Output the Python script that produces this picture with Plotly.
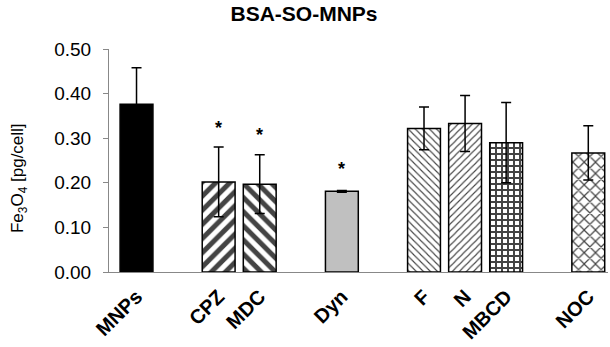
import plotly.graph_objects as go

categories = ["MNPs", "CPZ", "MDC", "Dyn", "F", "N", "MBCD", "NOC"]
slots = [0, 2, 3, 5, 7, 8, 9, 11]
values = [0.376, 0.202, 0.197, 0.181, 0.322, 0.333, 0.290, 0.267]
errors = [0.082, 0.078, 0.066, 0.002, 0.048, 0.063, 0.090, 0.061]
star_cats = ["CPZ", "MDC", "Dyn"]
star_y = [0.322, 0.307, 0.232]
y_ticks = [0.0, 0.1, 0.2, 0.3, 0.4, 0.5]

fills = ["black", "white", "white", "#c0c0c0", "white", "white", "white", "white"]
shapes = ["", "/", "\\", "", "\\", "/", "+", "x"]
psize = [8, 10, 10, 8, 5, 5, 6, 8]
psolid = [0.3, 0.5, 0.5, 0.3, 0.22, 0.22, 0.55, 0.28]

FONT = "Arial, Liberation Sans"

fig = go.Figure()
fig.add_trace(go.Bar(
    x=slots, y=values, width=0.8,
    marker=dict(color=fills, line=dict(color="black", width=1.5),
                pattern=dict(shape=shapes, fgcolor="black", bgcolor="white",
                             fgopacity=1, size=psize, solidity=psolid,
                             fillmode="overlay")),
    error_y=dict(type="data", array=errors, visible=True, color="black",
                 thickness=1.5, width=5),
    showlegend=False,
))

for c, yv in zip(star_cats, star_y):
    fig.add_annotation(x=slots[categories.index(c)], y=yv, text="<b>*</b>",
                       showarrow=False, font=dict(size=18, color="black", family=FONT))

fig.add_annotation(xref="paper", yref="paper", x=-0.205, y=0.42,
                   text="Fe<sub>3</sub>O<sub>4</sub> [pg/cell]", textangle=-90,
                   showarrow=False, font=dict(size=17, color="black", family=FONT))

fig.update_layout(
    width=610, height=347,
    margin=dict(l=109, r=2, t=49, b=75),
    paper_bgcolor="white", plot_bgcolor="white",
    title=dict(text="<b>BSA-SO-MNPs</b>", x=304/610, xanchor="center",
               y=1 - 14/347, yanchor="middle",
               font=dict(size=21, color="black", family=FONT)),
    font=dict(family=FONT, color="black"),
)
fig.update_xaxes(range=[-0.67, 11.48], tickmode="array", tickvals=slots,
                 ticktext=["<b>%s</b>" % c for c in categories], tickangle=-45,
                 showline=True, linecolor="#888888", linewidth=1, ticks="",
                 showgrid=False, zeroline=False, ticklabelstandoff=4,
                 tickfont=dict(size=20, color="black", family=FONT))
fig.update_yaxes(range=[0, 0.5], tickmode="array", tickvals=y_ticks,
                 ticktext=["%.2f" % v for v in y_ticks],
                 showline=True, linecolor="#888888", linewidth=1,
                 ticks="outside", ticklen=5, tickcolor="#888888",
                 showgrid=False, zeroline=False, ticklabelstandoff=8,
                 tickfont=dict(size=19, color="black", family=FONT))

fig.write_html("out.html")
